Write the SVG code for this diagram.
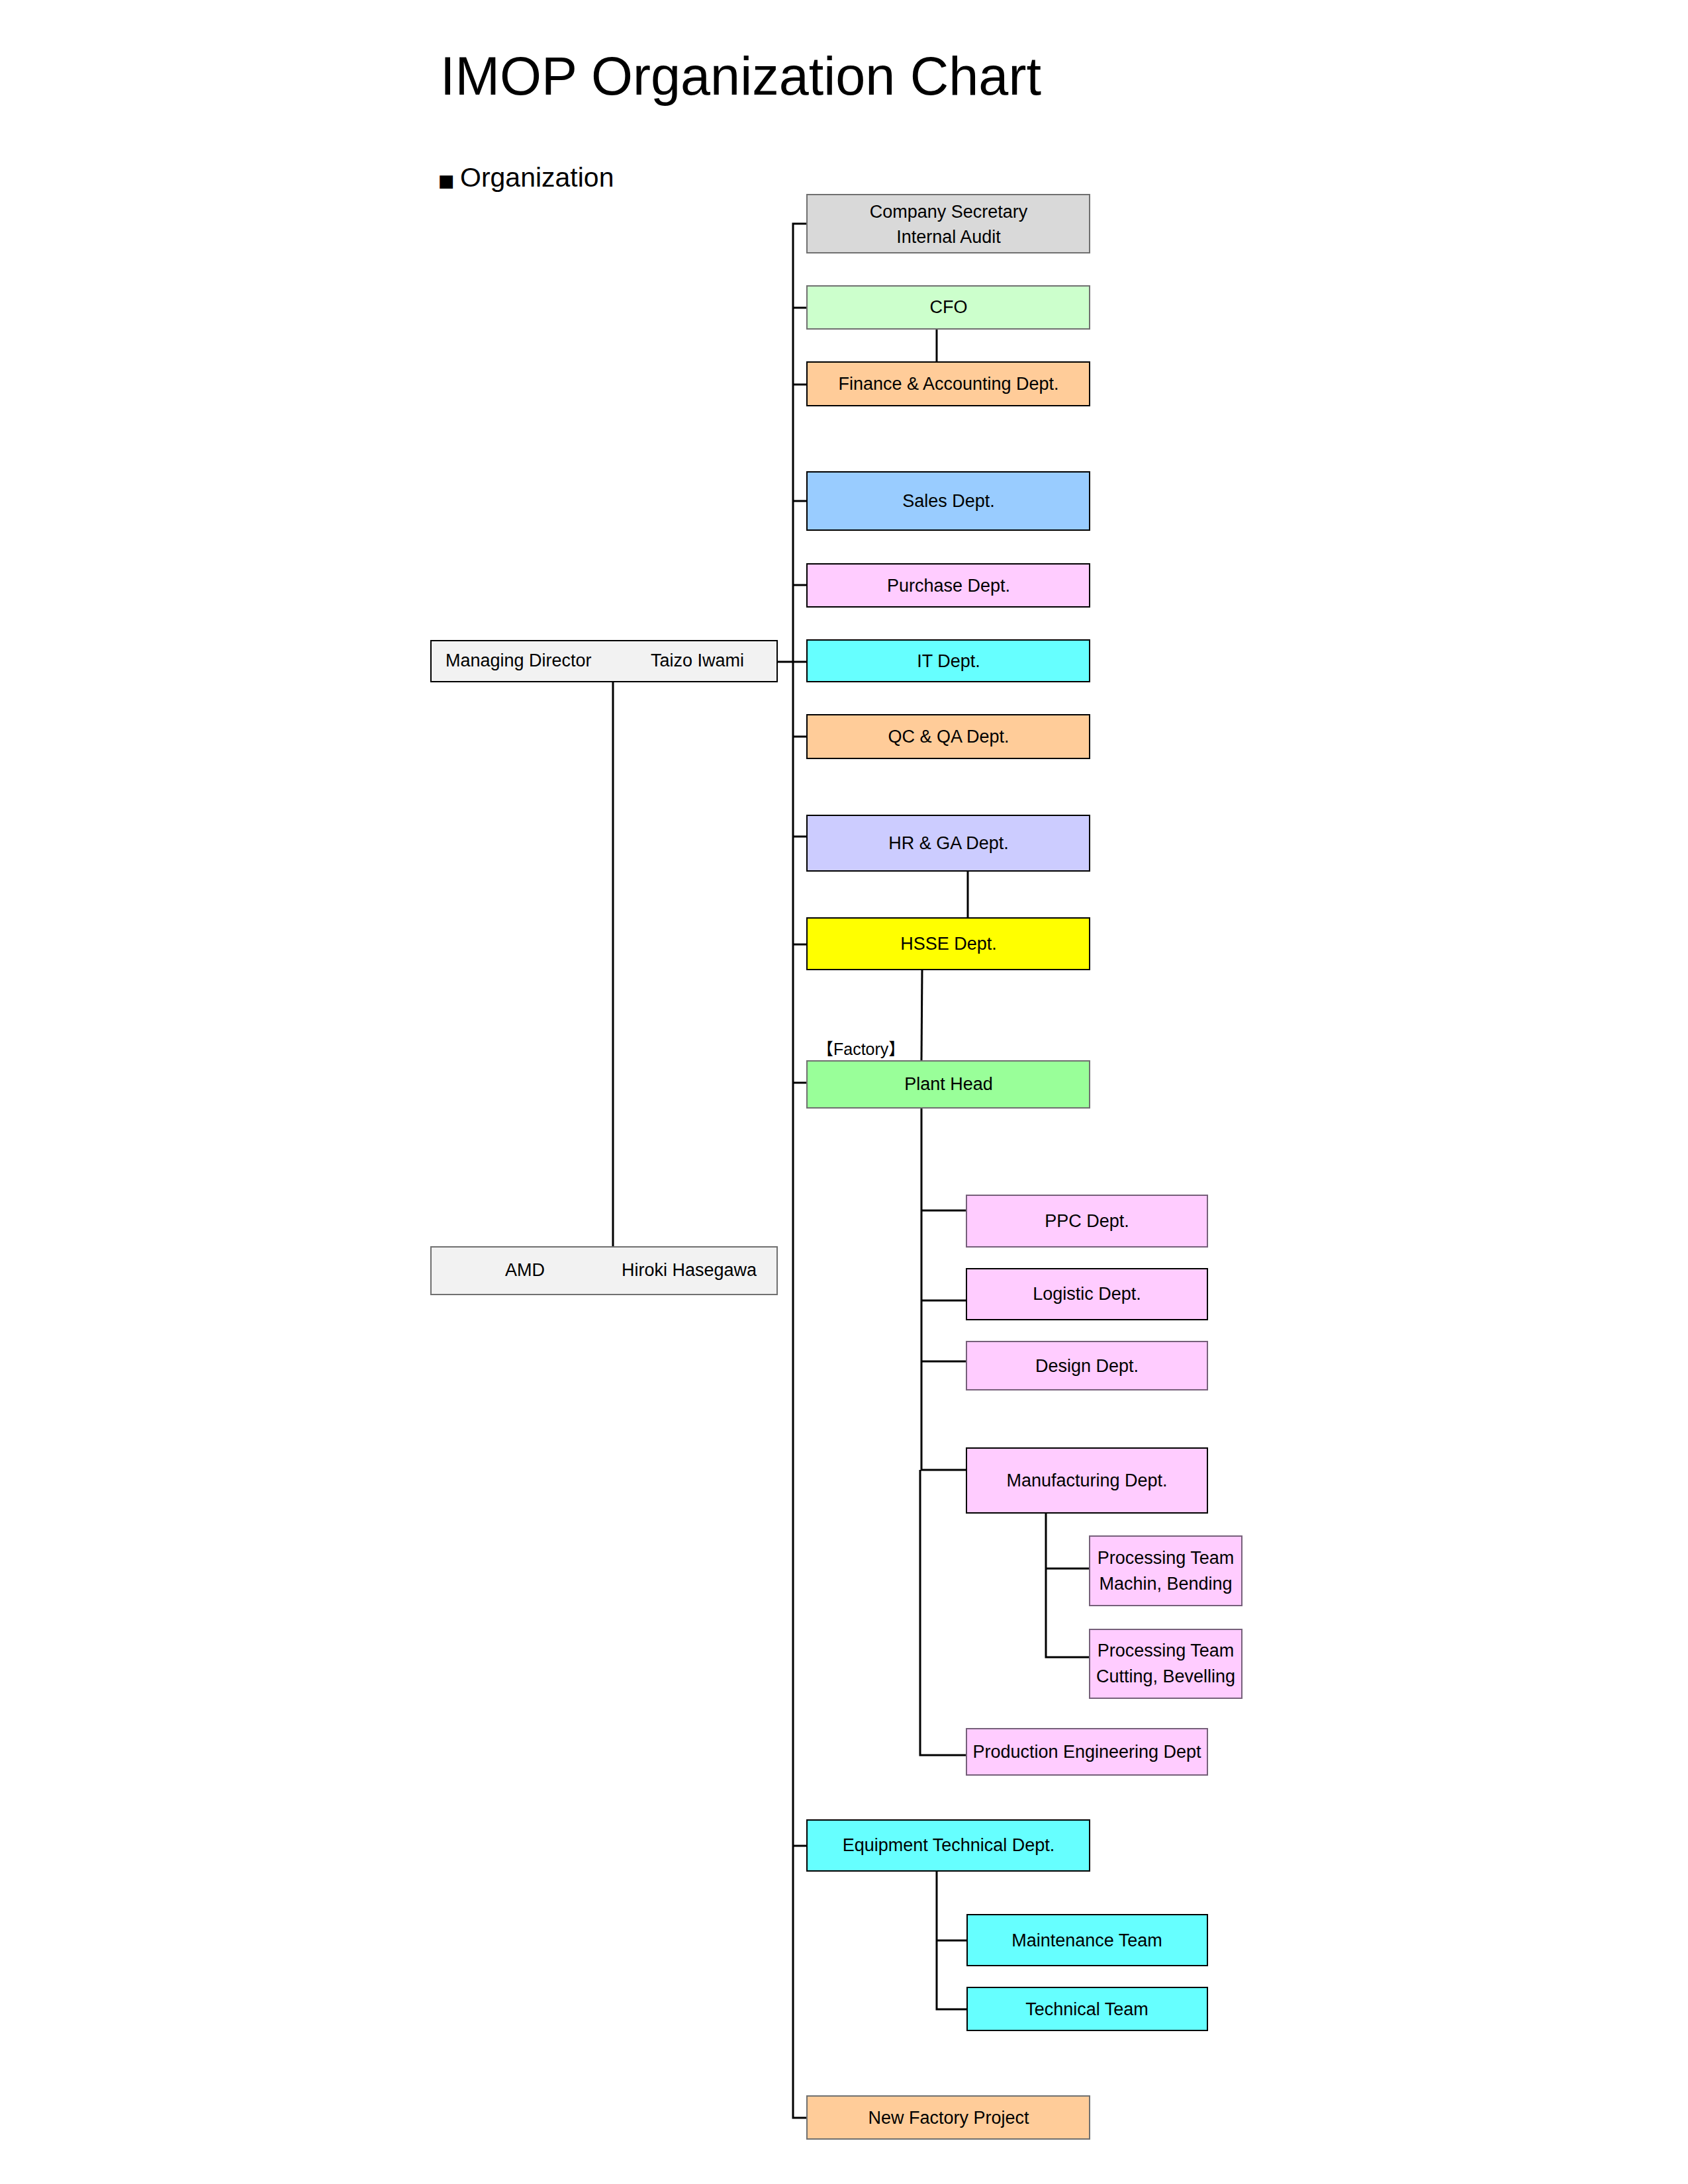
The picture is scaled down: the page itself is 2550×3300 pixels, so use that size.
<svg xmlns="http://www.w3.org/2000/svg" width="2550" height="3300" viewBox="0 0 2550 3300">
<style>
text{font-family:"Liberation Sans",Arial,"DejaVu Sans",sans-serif;fill:#000}
.t{font-size:27px;text-anchor:middle}
.l{font-size:27px}
.box{stroke:#000;stroke-width:2}
.gray{stroke:#707070}
.pk{fill:#ffccff;stroke:#76607a;stroke-width:2}
.cn{fill:none;stroke:#000;stroke-width:3}
</style>
<rect width="2550" height="3300" fill="#fff"/>
<text x="665" y="143" style="font-size:81px">IMOP Organization Chart</text>
<text y="282"><tspan x="662" style="font-family:'DejaVu Sans',sans-serif;font-size:26px">■</tspan><tspan x="695" style="font-size:41px">Organization</tspan></text>

<g id="connectors">
  <path class="cn" d="M1219,338 H1198 V3200 H1219"/>
  <path class="cn" d="M1198,465 H1219 M1198,581 H1219 M1198,757 H1219 M1198,884 H1219 M1174,1000 H1219 M1198,1113 H1219 M1198,1264 H1219 M1198,1427 H1219 M1198,1636 H1219 M1198,2789 H1219"/>
  <path class="cn" d="M1415,497 V547"/>
  <path class="cn" d="M926,1030 V1884"/>
  <path class="cn" d="M1462,1316 V1387"/>
  <path class="cn" d="M1393,1465 L1392,1603"/>
  <path class="cn" d="M1392,1674 V2221 H1460 M1392,1829 H1460 M1392,1965 H1460 M1392,2057 H1460"/>
  <path class="cn" d="M1390,2221 V2652 H1460"/>
  <path class="cn" d="M1580,2286 V2504 H1646 M1580,2370 H1646"/>
  <path class="cn" d="M1415,2827 V3036 H1461 M1415,2932 H1461"/>
</g>

<g id="md">
  <rect class="box" x="651" y="968" width="523" height="62" fill="#f2f2f2"/>
  <text class="l" x="673" y="1007">Managing Director</text>
  <text class="l" x="983" y="1007">Taizo Iwami</text>
</g>
<g id="amd">
  <rect class="box gray" x="651" y="1884" width="523" height="72" fill="#f2f2f2"/>
  <text class="l" x="763" y="1928">AMD</text>
  <text class="l" x="939" y="1928">Hiroki Hasegawa</text>
</g>

<g id="company-secretary">
  <rect class="box gray" x="1219" y="294" width="427" height="88" fill="#d9d9d9"/>
  <text class="t" x="1433" y="329">Company Secretary</text>
  <text class="t" x="1433" y="367">Internal Audit</text>
</g>
<g id="cfo">
  <rect class="box gray" x="1219" y="432" width="427" height="65" fill="#ccffcc"/>
  <text class="t" x="1433" y="473">CFO</text>
</g>
<g id="finance">
  <rect class="box" x="1219" y="547" width="427" height="66" fill="#ffcc99"/>
  <text class="t" x="1433" y="589">Finance &amp; Accounting Dept.</text>
</g>
<g id="sales">
  <rect class="box" x="1219" y="713" width="427" height="88" fill="#99ccff"/>
  <text class="t" x="1433" y="766">Sales Dept.</text>
</g>
<g id="purchase">
  <rect class="box" x="1219" y="852" width="427" height="65" fill="#ffccff"/>
  <text class="t" x="1433" y="894">Purchase Dept.</text>
</g>
<g id="it">
  <rect class="box" x="1219" y="967" width="427" height="63" fill="#66ffff"/>
  <text class="t" x="1433" y="1008">IT Dept.</text>
</g>
<g id="qc">
  <rect class="box" x="1219" y="1080" width="427" height="66" fill="#ffcc99"/>
  <text class="t" x="1433" y="1122">QC &amp; QA Dept.</text>
</g>
<g id="hr">
  <rect class="box" x="1219" y="1232" width="427" height="84" fill="#ccccff"/>
  <text class="t" x="1433" y="1283">HR &amp; GA Dept.</text>
</g>
<g id="hsse">
  <rect class="box" x="1219" y="1387" width="427" height="78" fill="#ffff00"/>
  <text class="t" x="1433" y="1435">HSSE Dept.</text>
</g>
<g id="factory-label">
  <text x="1234" y="1594" style="font-family:'Liberation Sans','Noto Sans CJK JP',sans-serif;font-size:25px">【Factory】</text>
</g>
<g id="plant-head">
  <rect class="box gray" x="1219" y="1603" width="427" height="71" fill="#99ff99"/>
  <text class="t" x="1433" y="1647">Plant Head</text>
</g>
<g id="ppc">
  <rect class="pk" x="1460" y="1806" width="364" height="78"/>
  <text class="t" x="1642" y="1854">PPC Dept.</text>
</g>
<g id="logistic">
  <rect class="pk" x="1460" y="1917" width="364" height="77" style="stroke:#000"/>
  <text class="t" x="1642" y="1964">Logistic Dept.</text>
</g>
<g id="design">
  <rect class="pk" x="1460" y="2027" width="364" height="73"/>
  <text class="t" x="1642" y="2073">Design Dept.</text>
</g>
<g id="manufacturing">
  <rect class="pk" x="1460" y="2188" width="364" height="98" style="stroke:#000"/>
  <text class="t" x="1642" y="2246">Manufacturing Dept.</text>
</g>
<g id="proc-machin">
  <rect class="pk" x="1646" y="2321" width="230" height="105"/>
  <text class="t" x="1761" y="2363">Processing Team</text>
  <text class="t" x="1761" y="2402">Machin, Bending</text>
</g>
<g id="proc-cutting">
  <rect class="pk" x="1646" y="2462" width="230" height="104"/>
  <text class="t" x="1761" y="2503">Processing Team</text>
  <text class="t" x="1761" y="2542">Cutting, Bevelling</text>
</g>
<g id="production-eng">
  <rect class="pk" x="1460" y="2612" width="364" height="70"/>
  <text class="t" x="1642" y="2656">Production Engineering Dept</text>
</g>
<g id="equipment">
  <rect class="box" x="1219" y="2750" width="427" height="77" fill="#66ffff"/>
  <text class="t" x="1433" y="2797">Equipment Technical Dept.</text>
</g>
<g id="maintenance">
  <rect class="box" x="1461" y="2893" width="363" height="77" fill="#66ffff"/>
  <text class="t" x="1642" y="2941">Maintenance Team</text>
</g>
<g id="technical">
  <rect class="box" x="1461" y="3003" width="363" height="65" fill="#66ffff"/>
  <text class="t" x="1642" y="3045">Technical Team</text>
</g>
<g id="new-factory">
  <rect class="box gray" x="1219" y="3167" width="427" height="65" fill="#ffcc99"/>
  <text class="t" x="1433" y="3209">New Factory Project</text>
</g>
</svg>
